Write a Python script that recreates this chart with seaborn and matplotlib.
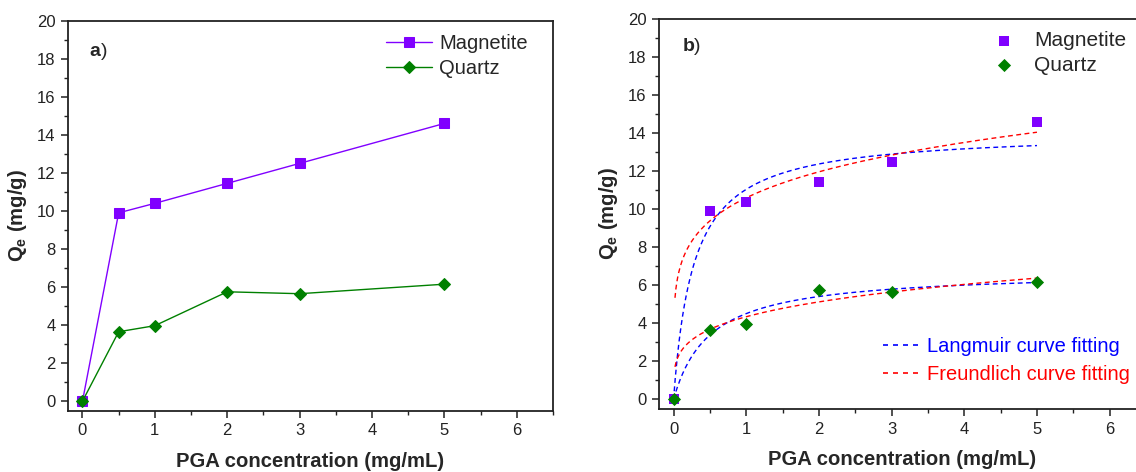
import numpy as np
import pandas as pd
import matplotlib
matplotlib.use("Agg")
import matplotlib.pyplot as plt
import seaborn as sns
from matplotlib.ticker import MultipleLocator
from matplotlib.lines import Line2D

# ---------------- data ----------------
conc = [0, 0.5, 1, 2, 3, 5]
magnetite = [0, 9.9, 10.4, 11.45, 12.5, 14.6]
quartz = [0, 3.65, 3.97, 5.75, 5.65, 6.15]

# fitted model parameters
lang_mag = (14.08, 3.64)   # qm, K
lang_qtz = (6.76, 2.01)
freu_mag = (10.6, 0.175)   # Kf, 1/n
freu_qtz = (4.35, 0.238)

series_names = ["Magnetite", "Quartz"]
colors = {"Magnetite": "#8000FF", "Quartz": "#008000"}
markers = {"Magnetite": "s", "Quartz": "D"}

# ---------------- style ----------------
sns.set_theme(style="ticks")
plt.rcParams["font.family"] = ["Liberation Sans", "DejaVu Sans"]
plt.rcParams["mathtext.fontset"] = "custom"
plt.rcParams["mathtext.rm"] = "Liberation Sans"
plt.rcParams["mathtext.bf"] = "Liberation Sans:bold"
plt.rcParams["mathtext.it"] = "Liberation Sans:italic"

df = pd.DataFrame({
    "conc": conc * 2,
    "Qe": magnetite + quartz,
    "series": ["Magnetite"] * len(conc) + ["Quartz"] * len(conc),
})

W, H = 1136, 472
fig = plt.figure(figsize=(W / 100, H / 100), dpi=100)
axa = fig.add_axes([68 / W, (H - 410.7) / H, 485 / W, 390 / H])
axb = fig.add_axes([659 / W, (H - 409) / H, 487 / W, 390 / H])

tick_fs = 12
label_fs = 14.6


def style_axes(ax):
    ax.set_xlim(-0.2, 6.5)
    ax.set_ylim(-0.5, 20)
    ax.xaxis.set_major_locator(MultipleLocator(1))
    ax.xaxis.set_minor_locator(MultipleLocator(0.5))
    ax.yaxis.set_major_locator(MultipleLocator(2))
    ax.yaxis.set_minor_locator(MultipleLocator(1))
    ax.tick_params(which="major", direction="out", length=5, width=1.1,
                   labelsize=tick_fs, colors="#222222", labelcolor="#222222",
                   top=False, right=False, pad=4)
    ax.tick_params(which="minor", direction="out", length=3, width=1.0,
                   top=False, right=False, colors="#222222")
    for s in ax.spines.values():
        s.set_visible(True)
        s.set_linewidth(1.3)
        s.set_color("#222222")
    ax.set_xlabel("PGA concentration (mg/mL)", fontsize=label_fs,
                  fontweight="bold", labelpad=10)
    ax.set_ylabel(r"$\mathbf{Q_e}$ (mg/g)", fontsize=label_fs,
                  fontweight="bold", labelpad=6)
    ax.grid(False)


def panel_label(ax, letter, x, y):
    t = ax.text(x, y, letter, transform=ax.transAxes, fontsize=14,
                fontweight="bold", va="center", ha="left")
    ax.annotate(")", xy=(1, 0.5), xycoords=t, va="center", ha="left",
                fontsize=14)


# ---------------- panel a ----------------
for name in series_names:
    sub = df[df["series"] == name]
    sns.lineplot(data=sub, x="conc", y="Qe", ax=axa, color=colors[name],
                 marker=markers[name], markersize=7 if name == "Magnetite" else 6.5,
                 markeredgecolor=colors[name], linewidth=1.0, label=name,
                 zorder=3)
style_axes(axa)
panel_label(axa, "a", 0.045, 0.92)
axa.legend(loc="upper left", bbox_to_anchor=(0.655, 0.965), frameon=False,
           fontsize=14.5, handlelength=2.3, handletextpad=0.35,
           labelspacing=0.3, borderpad=0, borderaxespad=0)

# ---------------- panel b ----------------
for name in series_names:
    sub = df[df["series"] == name]
    sns.scatterplot(data=sub, x="conc", y="Qe", ax=axb, color=colors[name],
                    marker=markers[name], s=50 if name == "Magnetite" else 45,
                    edgecolor=colors[name], linewidth=0, label=name, zorder=4)

x_l = np.linspace(0, 5, 400)
x_f = np.linspace(0.02, 5, 400)
for (qm, K) in [lang_mag, lang_qtz]:
    sns.lineplot(x=x_l, y=qm * K * x_l / (1 + K * x_l), ax=axb, color="blue",
                 linestyle=(0, (3.5, 2.5)), linewidth=1.0, zorder=3)
for (Kf, inv_n) in [freu_mag, freu_qtz]:
    sns.lineplot(x=x_f, y=Kf * x_f ** inv_n, ax=axb, color="red",
                 linestyle=(0, (3.5, 2.5)), linewidth=1.0, zorder=3)
style_axes(axb)
panel_label(axb, "b", 0.048, 0.93)

h, l = axb.get_legend_handles_labels()
leg1 = axb.legend(h[:2], l[:2], loc="upper left", bbox_to_anchor=(0.687, 0.968),
                  frameon=False, fontsize=15, handlelength=1.0,
                  handletextpad=0.95, labelspacing=0.25, borderpad=0,
                  borderaxespad=0)
axb.add_artist(leg1)
fit_handles = [Line2D([], [], color="blue", linestyle=(0, (3, 3)), lw=1.2),
               Line2D([], [], color="red", linestyle=(0, (3, 3)), lw=1.2)]
leg2 = axb.legend(fit_handles, ["Langmuir curve fitting", "Freundlich curve fitting"],
                  loc="upper left", bbox_to_anchor=(0.459, 0.185), frameon=False,
                  fontsize=14.5, handlelength=1.9, handletextpad=0.3,
                  labelspacing=0.45, borderpad=0, borderaxespad=0)
for txt, c in zip(leg2.get_texts(), ["blue", "red"]):
    txt.set_color(c)

fig.savefig("out.png", dpi=100)
